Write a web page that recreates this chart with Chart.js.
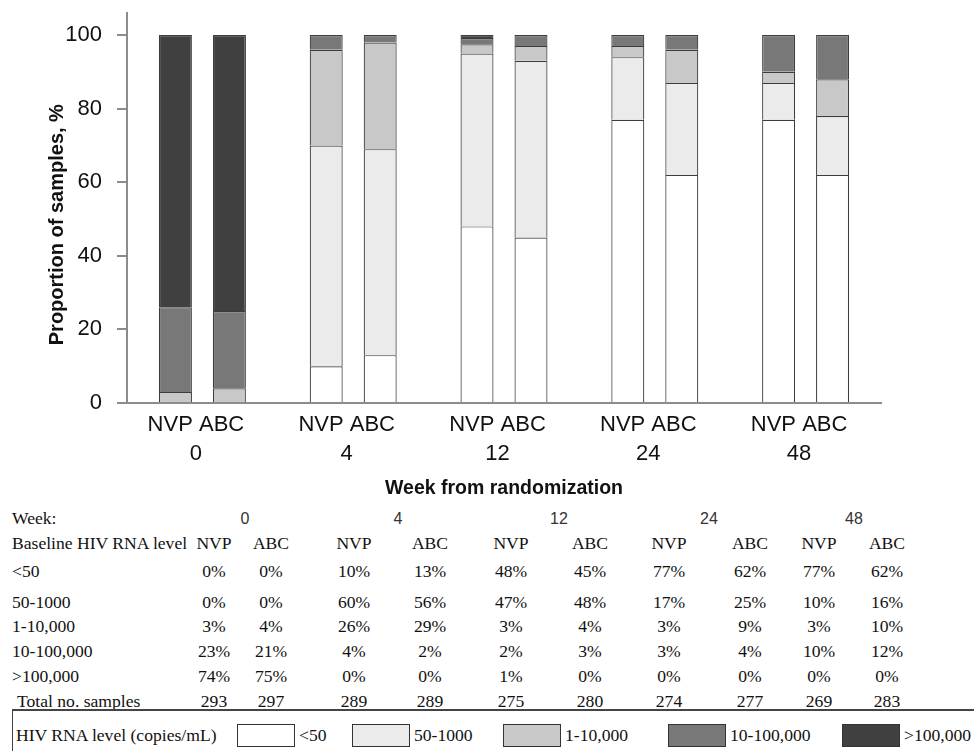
<!DOCTYPE html>
<html>
<head>
<meta charset="utf-8">
<script src="https://cdn.jsdelivr.net/npm/chart.js@4.4.1/dist/chart.umd.min.js"></script>
<style>
  body { margin: 0; background: #fff; }
  #wrap { position: relative; width: 974px; height: 751px; overflow: hidden;
          font-family: "Liberation Serif", "Times New Roman", serif; color: #111; }
  #chart { position: absolute; left: 0; top: 0; }
  .t { position: absolute; font-size: 17.6px; line-height: 1; white-space: nowrap; }
  .c { transform: translate(-50%, -50%); }
  .l { transform: translateY(-50%); }
  .sans { font-family: "Liberation Sans", Arial, sans-serif; font-size: 16px; color: #333; }
  .box { position: absolute; border: 1.5px solid #333; box-sizing: border-box; }
</style>
</head>
<body>
<div id="wrap"><canvas id="chart" width="974" height="500"></canvas></div>
<script>
const weeks = ['0', '4', '12', '24', '48'];
const arms = ['NVP', 'ABC'];
const levels = ['<50', '50-1000', '1-10,000', '10-100,000', '>100,000'];
const yTicks = [0, 20, 40, 60, 80, 100];

// bar segment heights (%), one value per week
const nvpLt50    = [0, 10, 48, 77, 77];
const nvp50_1000 = [0, 60, 47, 17, 10];
const nvp1_10k   = [3, 26, 2.5, 3, 3];
const nvp10_100k = [23, 4, 1.7, 3, 10];
const nvpGt100k  = [74, 0, 0.8, 0, 0];

const abcLt50    = [0, 13, 45, 62, 62];
const abc50_1000 = [0, 56, 48, 25, 16];
const abc1_10k   = [4, 29, 4, 9, 10];
const abc10_100k = [21, 2, 3, 4, 12];
const abcGt100k  = [75, 0, 0, 0, 0];

// table below the chart, columns: NVP/ABC for each week
const tableLt50    = [0, 0, 10, 13, 48, 45, 77, 62, 77, 62];
const table50_1000 = [0, 0, 60, 56, 47, 48, 17, 25, 10, 16];
const table1_10k   = [3, 4, 26, 29, 3, 4, 3, 9, 3, 10];
const table10_100k = [23, 21, 4, 2, 2, 3, 3, 4, 10, 12];
const tableGt100k  = [74, 75, 0, 0, 1, 0, 0, 0, 0, 0];
const totalSamples = [293, 297, 289, 289, 275, 280, 274, 277, 269, 283];

const levelColors = ['#ffffff', '#ebebeb', '#c8c8c8', '#787878', '#404040'];

const seriesByArm = {
  NVP: [nvpLt50, nvp50_1000, nvp1_10k, nvp10_100k, nvpGt100k],
  ABC: [abcLt50, abc50_1000, abc1_10k, abc10_100k, abcGt100k]
};

const datasets = [];
arms.forEach(arm => {
  levels.forEach((lvl, i) => {
    datasets.push({
      label: lvl,
      stack: arm,
      data: seriesByArm[arm][i],
      backgroundColor: levelColors[i],
      borderColor: '#3c3c3c',
      borderWidth: 1.2,
      categoryPercentage: 0.716,
      barPercentage: 0.611
    });
  });
});

new Chart(document.getElementById('chart').getContext('2d'), {
  type: 'bar',
  data: {
    labels: weeks.map(w => [arms.join(' '), w]),
    datasets: datasets
  },
  options: {
    responsive: false,
    animation: false,
    devicePixelRatio: 1,
    layout: { padding: { top: 13, right: 93, left: 0, bottom: 0 } },
    plugins: { legend: { display: false }, tooltip: { enabled: false } },
    scales: {
      x: {
        stacked: true,
        grid: { display: false, drawTicks: false },
        border: { display: true, color: '#8c8c8c', width: 2 },
        ticks: {
          font: { family: '"Liberation Sans", Arial, sans-serif', size: 22, lineHeight: 1.32 },
          color: '#111', padding: 7.5, labelOffset: -6.5, maxRotation: 0, autoSkip: false
        },
        title: {
          display: true, text: 'Week from randomization', color: '#111',
          font: { family: '"Liberation Sans", Arial, sans-serif', size: 19.5, weight: 'bold' },
          padding: { top: 0, bottom: 0 }
        },
        afterFit(scale) { scale.height = 97; scale.paddingLeft = 0; scale.paddingRight = 0; }
      },
      y: {
        stacked: true,
        min: 0,
        max: 106,
        afterBuildTicks(scale) { scale.ticks = yTicks.map(v => ({ value: v })); },
        grid: { drawOnChartArea: false, drawTicks: true, tickLength: 10, color: '#8c8c8c', lineWidth: 2 },
        border: { display: true, color: '#8c8c8c', width: 2 },
        ticks: {
          font: { family: '"Liberation Sans", Arial, sans-serif', size: 22 },
          color: '#111', padding: 15
        },
        title: {
          display: true, text: 'Proportion of samples, %      ', color: '#111',
          font: { family: '"Liberation Sans", Arial, sans-serif', size: 20, weight: 'bold' },
          padding: { top: 45, bottom: 0 }
        },
        afterFit(scale) { scale.width = 127; scale.paddingTop = 0; scale.paddingBottom = 0; }
      }
    }
  }
});

// ---- table + legend (html text) ----
const wrap = document.getElementById('wrap');
function put(text, x, y, cls) {
  const d = document.createElement('div');
  d.className = 't ' + cls;
  d.textContent = text;
  d.style.left = x + 'px';
  d.style.top = y + 'px';
  wrap.appendChild(d);
  return d;
}

const colX = [214, 271, 354, 430, 511, 590, 669, 750, 819, 887];
const weekX = [245, 398, 559, 709, 854];

put('Week:', 12, 519, 'l');
weeks.forEach((w, i) => put(w, weekX[i], 519, 'c sans'));

put('Baseline HIV RNA level', 12, 544, 'l');
colX.forEach((x, i) => put(arms[i % 2], x, 544, 'c'));

const tableRows = [tableLt50, table50_1000, table1_10k, table10_100k, tableGt100k];
const rowY = [572, 603, 627, 652, 677];
tableRows.forEach((row, r) => {
  put(levels[r], 12, rowY[r], 'l');
  row.forEach((v, i) => put(v + '%', colX[i], rowY[r], 'c'));
});

put('Total no. samples', 17, 702, 'l');
totalSamples.forEach((v, i) => put(String(v), colX[i], 702, 'c'));

// legend frame lines
const hLine = document.createElement('div');
hLine.style.cssText = 'position:absolute;left:12px;top:709px;width:962px;height:2px;background:#444;';
wrap.appendChild(hLine);
const vLine = document.createElement('div');
vLine.style.cssText = 'position:absolute;left:12px;top:710px;width:1px;height:41px;background:#444;';
wrap.appendChild(vLine);

put('HIV RNA level (copies/mL)', 16, 736, 'l');
const boxX = [237, 352, 503, 668, 842];
levels.forEach((lvl, i) => {
  const b = document.createElement('div');
  b.className = 'box';
  b.style.left = boxX[i] + 'px';
  b.style.top = '724px';
  b.style.width = '58px';
  b.style.height = '23px';
  b.style.background = levelColors[i];
  wrap.appendChild(b);
  put(lvl, boxX[i] + 62, 736, 'l');
});
</script>
</body>
</html>
